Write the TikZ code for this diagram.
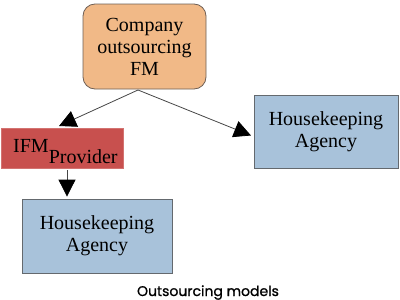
\documentclass[tikz,border=0pt]{standalone}
\usepackage{fontspec}
\setmainfont{Liberation Serif}
\newfontfamily\capfont[FakeBold=1]{Poppins}
\usetikzlibrary{arrows.meta}
\definecolor{orangefill}{RGB}{241,185,135}
\definecolor{orangeline}{RGB}{110,95,85}
\definecolor{redfill}{RGB}{200,80,78}
\definecolor{bluefill}{RGB}{168,194,218}
\definecolor{blueline}{RGB}{100,105,110}
\definecolor{conn}{RGB}{70,70,70}
\tikzset{
  boxtext/.style={font=\fontsize{20}{22}\selectfont, align=center, inner sep=0pt},
  compbox/.style={boxtext, draw=orangeline, line width=0.8pt, fill=orangefill, rounded corners=12pt, minimum width=123pt, minimum height=85pt},
  ifmbox/.style={fill=redfill, draw=redfill!80!white, line width=0.5pt, minimum width=122pt, minimum height=40pt, inner sep=0pt},
  hkbox/.style={boxtext, draw=blueline, line width=0.8pt, fill=bluefill},
  conarrow/.style={draw=conn, line width=0.8pt, -{Triangle[length=17pt, width=17pt, fill=black, color=black]}},
}
\begin{document}
\begin{tikzpicture}[x=1pt, y=-1pt]
\useasboundingbox (0,0) rectangle (400,300);
\node[compbox] (comp) at (144.5,46.5) {Company\\outsourcing\\FM};
\node[ifmbox] (ifm) at (62,148) {};
\node[boxtext, anchor=base west] (ifmtext) at (13,152) {IFM\raisebox{-11pt}{Provider}};
\node[hkbox, minimum width=150pt, minimum height=74pt] (hk1) at (97,236) {Housekeeping\\Agency};
\node[hkbox, minimum width=144pt, minimum height=73pt] (hk2) at (326,131.5) {Housekeeping\\Agency};
\coordinate (split) at (138,90);
\coordinate (tipL) at (59,126);
\coordinate (tipR) at (251,135.5);
\coordinate (dx) at (67,0);
\draw[conarrow] (split) -- (tipL);
\draw[conarrow] (split) -- (tipR);
\draw[conarrow, shorten <=2pt, shorten >=2pt] (ifm.south -| dx) -- (hk1.north -| dx);
\node[font=\capfont\fontsize{14}{16}\selectfont, anchor=base] (cap) at (208,296) {Outsourcing models};
\end{tikzpicture}
\end{document}
